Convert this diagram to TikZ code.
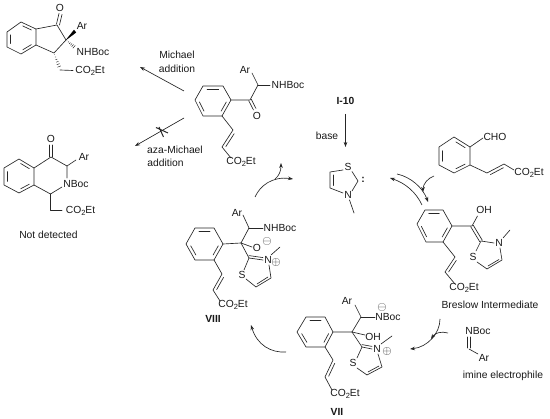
\documentclass[tikz,border=0pt]{standalone}
\usepackage{fontspec}
\setmainfont{Liberation Sans}
\usetikzlibrary{calc,arrows.meta}
\tikzset{
  bond/.style={draw=black!85,line width=0.65pt,line cap=round,line join=round},
  atom/.style={inner sep=0pt,font=\fontsize{10.3}{12}\selectfont,text=black!90},
  boldlabel/.style={atom,font=\fontsize{10.3}{12}\selectfont\bfseries},
  charge/.style={inner sep=0pt,font=\fontsize{11.5}{12}\selectfont,text=black!85},
  rx/.style={draw=black!85,line width=0.65pt,-{Stealth[length=5pt,width=3.6pt]}},
  cx/.style={rx},
  wedge/.style={fill=black,draw=black,line width=0.2pt}
}
\newcommand\coo{CO\raisebox{-2pt}{\fontsize{7.5}{8}\selectfont 2}Et}
\newcommand\inbond[2]{\draw[bond] ($($(#1)!.14!(#2)$)!.2!(cc)$) -- ($($(#2)!.14!(#1)$)!.2!(cc)$);}
% ring: inner lines on edges 1-2, 3-4, 5-6
\newcommand\ring[6]{\draw[bond] (#1)--(#2)--(#3)--(#4)--(#5)--(#6)--cycle;
  \coordinate (cc) at ($(#1)!.5!(#4)$);
  \inbond{#1}{#2}\inbond{#3}{#4}\inbond{#5}{#6}}
\newcommand\dbl[3]{\draw[bond] ($(#1)!.12!(#2)!#3!90:(#2)$) -- ($(#2)!.12!(#1)!#3!-90:(#1)$);}
\newcommand\hash[2]{\foreach \t in {.1,.25,.4,.55,.7,.85,1}{\draw[draw=black!85,line width=0.45pt]
  ($($(#1)!\t!(#2)$)!{\t*2.2pt}!90:(#2)$) -- ($($(#1)!\t!(#2)$)!{\t*2.2pt}!-90:(#2)$);}}
\begin{document}
\begin{tikzpicture}[x=1pt,y=-1pt]
\useasboundingbox[fill=white] (0,0) rectangle (550,419);

% --- indanone product
\ring{7,47}{7,32}{21,22}{36,29}{36,45}{21,54}
\draw[bond] (36,29)--(57,25)--(66,40)--(54,53)--(36,45);
\draw[bond] (56.5,24)--(59,13.5); \draw[bond] (59.5,25)--(62,14.5);
\path[wedge] (66,40)--(74,30)--(76,32.5)--cycle;
\hash{66,40}{75.5,48}
\hash{54,53}{60,69}
\draw[bond] (60,70)--(73,70.5);
\node[atom] (o1) at (60,8) {O};
\node[atom] (ar1) at (82,26) {Ar};
\node[atom] (nhb1) at (93,52) {NHBoc};
\node[atom] (ester1) at (90,71) {\coo};

% --- isoquinolinone
\ring{4,185}{4,168}{19,159}{34,168}{34,185}{19,193}
\draw[bond] (34,168)--(51,157)--(67,166)--(67,178);
\draw[bond] (34,185)--(50.5,194)--(62,187);
\draw[bond] (49.5,157)--(49.5,145); \draw[bond] (52.5,157)--(52.5,145);
\draw[bond] (67,166)--(76,160);
\draw[bond] (50.5,194)--(50.5,210)--(62,210);
\node[atom] (o2) at (51,139) {O};
\node[atom] (ar2) at (84,157) {Ar};
\node[atom] (nb2) at (76,184.5) {NBoc};
\node[atom] (ester2) at (80.5,211) {\coo};
\node[atom] (nd) at (48.5,234.5) {Not detected};

% --- reaction arrows left
\coordinate (m1) at (184,91); \coordinate (m2) at (140,67);
\draw[rx] (m1)--(m2);
\node[atom] (michael) at (177,55) {Michael};
\node[atom] (add1) at (177,68.5) {addition};
\coordinate (a1) at (184,118); \coordinate (a2) at (135,146);
\draw[rx] (a1)--(a2);
\draw[draw=black!85,line width=1pt] (156,127.5)--(168,133);
\draw[draw=black!85,line width=1pt] (159,127)--(163.5,137);
\node[atom] (aza) at (175,150) {aza-Michael};
\node[atom] (add2) at (165.5,163) {addition};

% --- ketone
\ring{203,86}{223,86}{231,100}{222,116}{203,116}{195,100}
\draw[bond] (231,100)--(250,100)--(258,85)--(252,73);
\draw[bond] (258,85)--(270,85);
\draw[bond] (248.7,100.7)--(253.5,110); \draw[bond] (251.3,99.3)--(256,108.5);
\draw[bond] (222,116)--(233,130)--(222,147)--(231,158);
\dbl{233,130}{222,147}{3pt}
\node[atom] (ar3) at (245,70) {Ar};
\node[atom] (nhb3) at (288,85) {NHBoc};
\node[atom] (o3) at (257,116) {O};
\node[atom] (ester3) at (241,162) {\coo};

% --- I-10, carbene
\node[boldlabel] (i10) at (345.5,100.5) {I-10};
\coordinate (b1) at (345.5,114); \coordinate (b2) at (345.5,147);
\draw[rx] (b1)--(b2);
\node[atom] (base) at (327,136) {base};
\draw[bond] (343,170)--(330,172)--(330,188)--(343,193);
\draw[bond] (333,175)--(333,185.5);
\draw[bond] (352,171.5)--(358,181)--(352,191);
\draw[bond] (349.5,200)--(354,213);
\node[atom] (s4) at (348,167) {S};
\node[atom] (n4) at (348,195) {N};
\node[atom,font=\fontsize{10.3}{12}\selectfont\bfseries] (col) at (363,180) {:};

% --- aldehyde
\ring{439,165}{439,147}{454,137}{470,147}{470,165}{454,173}
\draw[bond] (470,147)--(483,138);
\draw[bond] (470,165)--(487,173)--(504,164)--(514,170);
\dbl{487,173}{504,164}{-3pt}
\node[atom] (cho) at (495,137) {CHO};
\node[atom] (ester5) at (529,173) {\coo};

% --- catalytic cycle arrows, top right
\coordinate (e1) at (422,205); \coordinate (e2) at (390,178);
\coordinate (e3) at (397,174); \coordinate (e4) at (428,202);
\draw[cx] (e1) .. controls (416,192) and (405,183) .. (e2);
\draw[cx] (e3) .. controls (411,177) and (423,188) .. (e4);
\coordinate (h1) at (434,176); \coordinate (h2) at (423,192);
\draw[cx] (h1) .. controls (428,178) and (423,184) .. (h2);

% --- Breslow
\ring{425,210}{443,210}{452,226}{443,242}{426,242}{417,224}
\draw[bond] (452,226)--(472,226)--(477.5,216);
\draw[bond] (443,242)--(455,257)--(445,272)--(455,284);
\dbl{455,257}{445,272}{3pt}
\draw[bond] (470.7,226.7)--(479.7,241.7); \draw[bond] (473.3,225.3)--(482.3,240.3);
\draw[bond] (481,241)--(494,243);
\draw[bond] (481,241)--(476,251);
\draw[bond] (500,248)--(502,260)--(487,269)--(477,262);
\draw[bond] (499,259.5)--(488,266);
\draw[bond] (503,238)--(510,230);
\node[atom] (oh6) at (484,210) {OH};
\node[atom] (n6) at (499,243) {N};
\node[atom] (s6) at (473,257) {S};
\node[atom] (ester6) at (464,287.5) {\coo};
\node[atom] (bres) at (490,304.5) {Breslow Intermediate};

% --- imine
\draw[bond] (467.5,337)--(467.5,348); \draw[bond] (470.5,337)--(470.5,348);
\draw[bond] (469,349)--(478,354);
\node[atom] (nb7) at (478,331) {NBoc};
\node[atom] (ar7) at (484,357.5) {Ar};
\node[atom] (ie) at (503,376) {imine electrophile};

\coordinate (f1) at (440,319); \coordinate (f2) at (410,349);
\draw[cx] (f1) .. controls (440,333) and (428,347) .. (f2);
\coordinate (g1) at (448,333); \coordinate (g2) at (431,339);
\draw[cx] (g1) .. controls (441,331) and (435,333) .. (g2);

% --- VII
\ring{306,317}{325,317}{333,332}{325,347}{306,347}{297,332}
\draw[bond] (333,332)--(352,332)--(361,317)--(355,305);
\draw[bond] (361,317)--(375,317);
\draw[bond] (352,332)--(365,335);
\draw[bond] (352,332)--(362,347);
\draw[bond] (362,347)--(372,349);
\draw[bond] (362,344.6)--(372,346.4);
\draw[bond] (362,347)--(357,358);
\draw[bond] (378,354)--(382,367)--(367,375)--(357,368);
\draw[bond] (379,366)--(368,372);
\draw[bond] (381,344)--(392,336);
\draw[bond] (325,347)--(333,360)--(325,377)--(332,390);
\dbl{333,360}{325,377}{3pt}
\node[atom] (ar8) at (347,301) {Ar};
\node[atom] (nb8) at (388,317) {NBoc};
\node[charge] (neg8) at (382,307.5) {$\ominus$};
\node[atom] (oh8) at (373,337) {OH};
\node[atom] (n8) at (377,349) {N};
\node[charge] (pos8) at (387,352) {$\oplus$};
\node[atom] (s8) at (353,363) {S};
\node[atom] (ester8) at (345,394) {\coo};
\node[boldlabel] (vii) at (337,412) {VII};

% --- VIII
\ring{195,228}{214,228}{223,244}{214,260}{195,260}{186,244}
\draw[bond] (223,244)--(241,243)--(249,228)--(243,215);
\draw[bond] (249,228)--(263,228);
\draw[bond] (241,243)--(252,247);
\draw[bond] (241,243)--(249,258);
\draw[bond] (249,258)--(263,260);
\draw[bond] (249,255.6)--(263,257.6);
\draw[bond] (249,258)--(244,270);
\draw[bond] (269,265)--(271,278)--(256,287)--(246,279);
\draw[bond] (268,277)--(257,284);
\draw[bond] (271,255)--(280,247);
\draw[bond] (214,260)--(222,274)--(213,290)--(220,301);
\dbl{222,274}{213,290}{3pt}
\node[atom] (ar9) at (237,213) {Ar};
\node[atom] (nhb9) at (280,228) {NHBoc};
\node[atom] (o9) at (257,248) {O};
\node[charge] (neg9) at (267,242) {$\ominus$};
\node[atom] (n9) at (268,260) {N};
\node[charge] (pos9) at (276,263) {$\oplus$};
\node[atom] (s9) at (242,275) {S};
\node[atom] (ester9) at (233,305) {\coo};
\node[boldlabel] (viii) at (213,319) {VIII};

% --- cycle arrows, left
\coordinate (k1) at (255,197); \coordinate (k2) at (293,179);
\draw[cx] (k1) .. controls (260,186) and (272,176) .. (k2);
\coordinate (k3) at (275,179); \coordinate (k4) at (281,163);
\draw[cx] (k3) .. controls (279,176) and (281,171) .. (k4);
\coordinate (l1) at (286,352); \coordinate (l2) at (251,325);
\draw[cx] (l1) .. controls (271,353) and (257,345) .. (l2);
\end{tikzpicture}
\end{document}
